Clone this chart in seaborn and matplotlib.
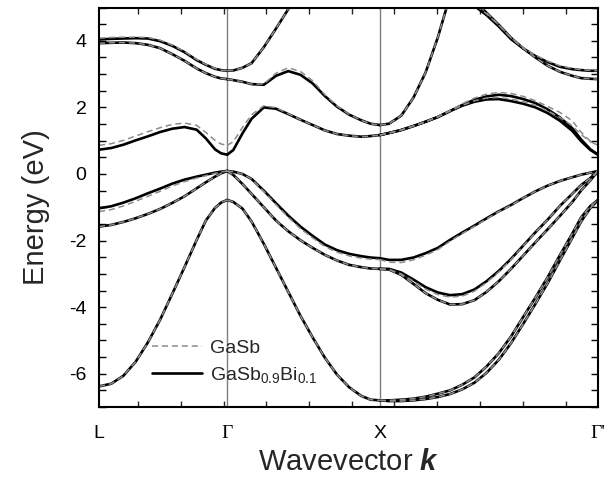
import pandas as pd
import seaborn as sns
import matplotlib.pyplot as plt
from matplotlib.lines import Line2D
from matplotlib.ticker import MultipleLocator

# high-symmetry points along the k path
sym_k = [0.0, 0.84, 1.84, 3.27]
sym_labels = ["L", "Γ", "X", "Γ'"]
minor_k = [0.256, 0.536, 0.816, 1.096, 1.377, 1.657, 1.936, 2.218, 2.498, 2.776, 3.058]

# sample points along each segment
k_lg = [0.00, 0.08, 0.16, 0.24, 0.32, 0.40, 0.48, 0.56, 0.64, 0.70, 0.76, 0.80, 0.84]
k_gx = [0.84, 0.88, 0.94, 1.00, 1.08, 1.16, 1.24, 1.32, 1.40, 1.48, 1.56, 1.64, 1.72, 1.78, 1.84]
k_xg = [1.84, 1.90, 1.98, 2.06, 2.14, 2.22, 2.30, 2.38, 2.46, 2.54, 2.62, 2.70, 2.78, 2.86,
        2.94, 3.02, 3.10, 3.16, 3.22, 3.27]
k_xg_top = k_xg[7:]

# ---- L -> Gamma (eV) ----
lg_vb1 = [-6.38, -6.30, -6.06, -5.64, -5.06, -4.38, -3.60, -2.80, -1.98, -1.40, -1.02, -0.86, -0.78]
lg_vb2 = [-1.03, -0.97, -0.86, -0.73, -0.58, -0.44, -0.29, -0.17, -0.08, -0.02, 0.04, 0.07, 0.09]
lg_vb2_gasb = [-1.13, -1.07, -0.96, -0.82, -0.67, -0.52, -0.36, -0.23, -0.12, -0.05, 0.02, 0.06, 0.09]
lg_vb3 = [-1.58, -1.53, -1.44, -1.33, -1.20, -1.05, -0.87, -0.67, -0.43, -0.25, -0.08, 0.02, 0.09]
lg_cb1 = [0.73, 0.78, 0.88, 1.01, 1.13, 1.26, 1.36, 1.41, 1.33, 1.07, 0.74, 0.62, 0.58]
lg_cb1_gasb = [0.86, 0.91, 1.01, 1.14, 1.27, 1.39, 1.49, 1.53, 1.46, 1.25, 1.01, 0.90, 0.86]
lg_cb2 = [4.04, 4.06, 4.07, 4.08, 4.07, 3.99, 3.85, 3.66, 3.42, 3.28, 3.16, 3.12, 3.10]
lg_cb2_gasb = [4.08, 4.10, 4.11, 4.11, 4.10, 4.02, 3.87, 3.68, 3.44, 3.29, 3.17, 3.12, 3.10]
lg_cb3 = [3.93, 3.94, 3.95, 3.93, 3.88, 3.78, 3.60, 3.40, 3.17, 3.03, 2.92, 2.87, 2.85]

# ---- Gamma -> X ----
gx_cb3 = [3.10, 3.11, 3.19, 3.33, 3.81, 4.37, 4.95, 5.55]
gx_cb2 = [2.85, 2.82, 2.77, 2.70, 2.68, 2.95, 3.09, 2.98, 2.72, 2.34, 2.02, 1.78, 1.61, 1.51, 1.47]
gx_cb2_gasb = [2.85, 2.82, 2.77, 2.70, 2.70, 3.03, 3.19, 3.08, 2.80, 2.38, 2.04, 1.79, 1.61, 1.51, 1.47]
gx_cb1 = [0.58, 0.72, 1.22, 1.66, 2.00, 1.96, 1.80, 1.63, 1.47, 1.31, 1.20, 1.15, 1.12, 1.14, 1.17]
gx_cb1_gasb = [0.86, 0.97, 1.40, 1.78, 2.05, 1.99, 1.81, 1.63, 1.47, 1.31, 1.20, 1.15, 1.12, 1.14, 1.17]
gx_hh = [0.09, 0.07, 0.00, -0.15, -0.50, -0.88, -1.25, -1.58, -1.86, -2.12, -2.29, -2.40, -2.47, -2.51, -2.53]
gx_hh_gasb = [0.09, 0.07, 0.00, -0.15, -0.52, -0.92, -1.30, -1.64, -1.92, -2.18, -2.35, -2.46, -2.53, -2.56, -2.57]
gx_lh = [0.09, -0.03, -0.30, -0.60, -1.00, -1.40, -1.72, -1.99, -2.22, -2.43, -2.60, -2.73, -2.80, -2.84, -2.85]
gx_vb1 = [-0.78, -0.84, -1.04, -1.43, -2.10, -2.82, -3.54, -4.26, -4.91, -5.52, -6.03, -6.41, -6.67, -6.78, -6.80]

# ---- X -> Gamma' ----
xg_cb_steep = [1.47, 1.51, 1.75, 2.29, 3.05, 4.10, 5.35]
xg_cb_a = [1.17, 1.23, 1.32, 1.44, 1.57, 1.71, 1.89, 2.07, 2.23, 2.33, 2.38, 2.34, 2.25, 2.13,
           1.94, 1.70, 1.38, 1.03, 0.74, 0.58]
xg_cb_a_gasb = [1.17, 1.23, 1.32, 1.44, 1.57, 1.72, 1.91, 2.11, 2.28, 2.40, 2.45, 2.42, 2.33, 2.20,
                2.03, 1.85, 1.60, 1.25, 0.98, 0.86]
xg_cb_b = [1.17, 1.23, 1.32, 1.44, 1.57, 1.71, 1.89, 2.05, 2.17, 2.24, 2.25, 2.19, 2.11, 2.00,
           1.83, 1.60, 1.30, 0.98, 0.72, 0.58]
xg_cb_b_gasb = [1.17, 1.23, 1.32, 1.44, 1.57, 1.71, 1.89, 2.06, 2.20, 2.28, 2.30, 2.25, 2.17, 2.06,
                1.90, 1.70, 1.45, 1.18, 0.97, 0.86]
xg_cb_top1 = [5.40, 5.05, 4.77, 4.43, 4.05, 3.77, 3.54, 3.36, 3.22, 3.15, 3.12, 3.10, 3.10]
xg_cb_top1_gasb = [5.45, 5.09, 4.81, 4.47, 4.09, 3.80, 3.57, 3.39, 3.25, 3.17, 3.13, 3.11, 3.10]
xg_cb_top2 = [5.55, 5.20, 4.84, 4.48, 4.09, 3.77, 3.50, 3.25, 3.07, 2.95, 2.88, 2.86, 2.85]
xg_vb_up = [-2.53, -2.58, -2.58, -2.51, -2.38, -2.22, -1.98, -1.76, -1.55, -1.33, -1.12, -0.93,
            -0.72, -0.52, -0.35, -0.21, -0.10, -0.02, 0.04, 0.09]
xg_vb_up_gasb = [-2.57, -2.65, -2.66, -2.58, -2.44, -2.27, -2.02, -1.79, -1.57, -1.35, -1.13, -0.94,
                 -0.72, -0.52, -0.35, -0.21, -0.10, -0.02, 0.04, 0.09]
xg_dip_u = [-2.85, -2.85, -2.96, -3.17, -3.40, -3.56, -3.64, -3.61, -3.47, -3.22, -2.91, -2.55,
            -2.15, -1.75, -1.37, -0.96, -0.60, -0.33, -0.12, 0.09]
xg_dip_u_gasb = [-2.85, -2.87, -3.00, -3.22, -3.46, -3.62, -3.70, -3.67, -3.52, -3.26, -2.94, -2.57,
                 -2.16, -1.76, -1.37, -0.96, -0.60, -0.33, -0.12, 0.09]
xg_dip_l = [-2.85, -2.87, -3.03, -3.30, -3.58, -3.78, -3.92, -3.91, -3.79, -3.54, -3.22, -2.85,
            -2.45, -2.05, -1.66, -1.26, -0.85, -0.49, -0.19, 0.09]
xg_vb1_a = [-6.80, -6.80, -6.78, -6.75, -6.69, -6.60, -6.50, -6.33, -6.11, -5.78, -5.38, -4.88,
            -4.29, -3.71, -3.10, -2.44, -1.80, -1.30, -0.96, -0.78]
xg_vb1_b = [-6.80, -6.82, -6.82, -6.80, -6.76, -6.70, -6.61, -6.47, -6.27, -5.97, -5.58, -5.08,
            -4.50, -3.90, -3.28, -2.60, -1.93, -1.42, -1.02, -0.78]

# (k, GaSbBi band, GaSb band)
bands = [
    (k_lg, lg_vb1, lg_vb1), (k_lg, lg_vb2, lg_vb2_gasb), (k_lg, lg_vb3, lg_vb3),
    (k_lg, lg_cb1, lg_cb1_gasb), (k_lg, lg_cb2, lg_cb2_gasb), (k_lg, lg_cb3, lg_cb3),
    (k_gx, gx_cb3, gx_cb3), (k_gx, gx_cb2, gx_cb2_gasb), (k_gx, gx_cb1, gx_cb1_gasb),
    (k_gx, gx_hh, gx_hh_gasb), (k_gx, gx_lh, gx_lh), (k_gx, gx_vb1, gx_vb1),
    (k_xg, xg_cb_steep, xg_cb_steep), (k_xg, xg_cb_a, xg_cb_a_gasb), (k_xg, xg_cb_b, xg_cb_b_gasb),
    (k_xg_top, xg_cb_top1, xg_cb_top1_gasb), (k_xg_top, xg_cb_top2, xg_cb_top2),
    (k_xg, xg_vb_up, xg_vb_up_gasb), (k_xg, xg_dip_u, xg_dip_u_gasb), (k_xg, xg_dip_l, xg_dip_l),
    (k_xg, xg_vb1_a, xg_vb1_a), (k_xg, xg_vb1_b, xg_vb1_b),
]

rows = []
for i, (k, e_bi, e_sb) in enumerate(bands):
    for kk, eb, es in zip(k, e_bi, e_sb):
        rows.append((i, kk, eb, "GaSbBi"))
        rows.append((i, kk, es, "GaSb"))
df = pd.DataFrame(rows, columns=["band", "k", "E", "alloy"])

sns.set_theme(style="ticks")
plt.rcParams["font.family"] = ["Liberation Sans", "DejaVu Sans"]
plt.rcParams["axes.unicode_minus"] = False
plt.rcParams["mathtext.fontset"] = "custom"
plt.rcParams["mathtext.rm"] = "Liberation Sans"
plt.rcParams["mathtext.it"] = "Liberation Sans:italic"
plt.rcParams["mathtext.bf"] = "Liberation Sans:bold"
plt.rcParams["mathtext.bfit"] = "Liberation Sans:italic:bold"

fig = plt.figure(figsize=(6.09, 4.83), dpi=100)
ax = fig.add_axes([0.1626, 0.1573, 0.8194, 0.8271])

for xv in sym_k[1:3]:
    ax.axvline(xv, color="#7f7f7f", lw=1.0, zorder=1)

sns.lineplot(data=df[df["alloy"] == "GaSbBi"], x="k", y="E", units="band", estimator=None,
             sort=False, color="black", linewidth=1.9, legend=False, ax=ax)
sns.lineplot(data=df[df["alloy"] == "GaSb"], x="k", y="E", units="band", estimator=None,
             sort=False, color="#8c8c8c", linewidth=1.1, linestyle=(0, (4, 2.5)),
             legend=False, ax=ax)

ax.set_xlim(sym_k[0], sym_k[-1])
ax.set_ylim(-7, 5)

for s in ax.spines.values():
    s.set_color("black")
    s.set_linewidth(1.5)

ax.set_xticks(sym_k)
ax.set_xticklabels(sym_labels)
ax.set_xticks(minor_k, minor=True)
ax.tick_params(axis="x", which="major", length=0, pad=13, labelsize=14, colors="black")
ax.tick_params(axis="x", which="minor", direction="in", length=4, width=1, top=True, bottom=True)
ax.set_yticks([-6, -4, -2, 0, 2, 4])
ax.yaxis.set_minor_locator(MultipleLocator(0.5))
ax.tick_params(axis="y", which="both", direction="in", length=5, width=1, left=True, right=True,
               labelsize=14, pad=9, colors="black")
for i in (1, 3):
    ax.get_xticklabels()[i].set_fontfamily("Liberation Serif")

ax.set_xlabel(r"Wavevector $\mathbfit{k}$", fontsize=21, labelpad=4)
ax.set_ylabel("Energy (eV)", fontsize=21, labelpad=14)

handles = [Line2D([], [], color="#8c8c8c", lw=1.1, linestyle=(0, (4, 2.5))),
           Line2D([], [], color="black", lw=1.9)]
ax.legend(handles, ["GaSb", "GaSb$_{0.9}$Bi$_{0.1}$"], loc="lower left",
          bbox_to_anchor=(0.09, 0.035), frameon=False, fontsize=14, handlelength=2.6,
          labelspacing=0.45, handletextpad=0.4, borderaxespad=0)

fig.savefig("out.png", dpi=100)
